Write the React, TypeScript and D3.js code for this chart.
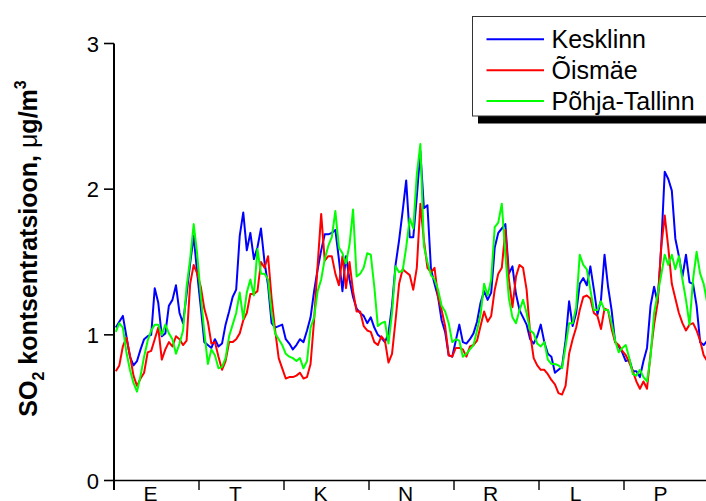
import React from "react";
import * as d3 from "d3";

const dayLabels = ["E", "T", "K", "N", "R", "L", "P"];
const yTicks = [0, 1, 2, 3];
const seriesNames = ["Kesklinn", "Õismäe", "Põhja-Tallinn"];
const seriesColors = ["#0000ff", "#ff0000", "#00ff00"];

const kesklinn = [
  1.05, 1.09, 1.13, 0.99, 0.85, 0.79, 0.82, 0.90, 0.97, 0.99, 1.00, 1.32, 1.22, 0.99, 1.01, 1.20, 1.24, 1.34, 1.15, 1.08, 1.28, 1.49, 1.68, 1.42,
  1.19, 0.95, 0.93, 0.91, 0.97, 0.92, 0.94, 1.07, 1.16, 1.26, 1.31, 1.68, 1.84, 1.58, 1.70, 1.52, 1.60, 1.73, 1.50, 1.34, 1.08, 1.05, 1.06, 1.07,
  0.97, 0.94, 0.90, 0.93, 0.97, 0.95, 1.03, 1.12, 1.30, 1.45, 1.58, 1.69, 1.69, 1.70, 1.72, 1.52, 1.30, 1.54, 1.38, 1.26, 1.18, 1.15, 1.13, 1.08,
  1.12, 1.05, 1.00, 0.98, 0.95, 1.01, 1.20, 1.48, 1.65, 1.85, 2.06, 1.67, 1.67, 1.95, 2.26, 1.87, 1.89, 1.45, 1.35, 1.26, 1.10, 1.02, 0.86, 0.85,
  0.96, 1.07, 0.95, 0.94, 0.97, 1.01, 1.09, 1.22, 1.30, 1.24, 1.29, 1.60, 1.70, 1.73, 1.76, 1.42, 1.47, 1.28, 1.17, 1.12, 1.07, 0.97, 0.94, 0.99,
  1.07, 0.95, 0.87, 0.85, 0.74, 0.76, 0.78, 0.96, 1.23, 1.06, 1.15, 1.35, 1.39, 1.34, 1.47, 1.31, 1.14, 1.24, 1.55, 1.33, 1.17, 0.95, 0.92, 0.88,
  0.82, 0.83, 0.75, 0.75, 0.71, 0.82, 0.91, 1.20, 1.33, 1.22, 1.60, 2.12, 2.07, 1.99, 1.66, 1.54, 1.40, 1.55, 1.36, 1.35, 1.20, 0.95, 0.93, 0.96,
];

const oismae = [
  0.75, 0.79, 0.92, 0.98, 0.86, 0.72, 0.65, 0.70, 0.74, 0.88, 0.89, 0.97, 1.05, 0.83, 0.90, 0.95, 0.92, 0.99, 0.97, 0.93, 0.96, 1.35, 1.48, 1.42,
  1.33, 1.18, 1.09, 0.94, 0.95, 0.85, 0.76, 0.82, 0.95, 0.95, 0.97, 1.01, 1.10, 1.15, 1.28, 1.28, 1.30, 1.50, 1.46, 1.54, 1.25, 1.03, 0.84, 0.77,
  0.70, 0.71, 0.71, 0.72, 0.74, 0.70, 0.71, 0.80, 1.10, 1.48, 1.83, 1.51, 1.54, 1.54, 1.42, 1.34, 1.54, 1.32, 1.50, 1.30, 1.16, 1.16, 1.06, 1.03,
  1.02, 0.95, 0.93, 0.99, 0.96, 0.81, 0.87, 1.10, 1.35, 1.45, 1.43, 1.41, 1.31, 1.46, 1.90, 1.65, 1.46, 1.43, 1.46, 1.26, 1.17, 1.06, 0.86, 0.85,
  0.91, 0.91, 0.90, 0.85, 0.92, 0.93, 0.96, 1.06, 1.16, 1.09, 1.13, 1.31, 1.42, 1.46, 1.72, 1.38, 1.19, 1.40, 1.48, 1.46, 1.31, 1.01, 0.84, 0.79,
  0.76, 0.76, 0.73, 0.69, 0.66, 0.60, 0.59, 0.65, 0.87, 0.97, 1.05, 1.17, 1.26, 1.27, 1.25, 1.15, 1.13, 1.04, 1.18, 1.17, 1.04, 0.95, 0.93, 0.89,
  0.86, 0.81, 0.75, 0.68, 0.63, 0.68, 0.63, 0.87, 1.07, 1.22, 1.60, 1.82, 1.60, 1.35, 1.25, 1.15, 1.08, 1.03, 1.07, 1.08, 1.03, 0.96, 0.86, 0.82,
];

const pohjaTallinn = [
  1.02, 1.08, 1.05, 0.88, 0.76, 0.67, 0.61, 0.72, 0.85, 0.96, 1.03, 1.07, 1.07, 1.00, 1.07, 1.01, 0.97, 0.87, 0.94, 1.03, 1.33, 1.52, 1.76, 1.55,
  1.27, 1.02, 0.80, 0.90, 0.86, 0.77, 0.78, 0.84, 0.99, 1.07, 1.15, 1.29, 1.11, 1.29, 1.38, 1.27, 1.59, 1.42, 1.42, 1.38, 1.15, 1.01, 0.97, 0.93,
  0.87, 0.85, 0.84, 0.82, 0.84, 0.77, 0.82, 1.05, 1.12, 1.30, 1.38, 1.52, 1.61, 1.67, 1.85, 1.60, 1.56, 1.49, 1.62, 1.86, 1.40, 1.42, 1.46, 1.56,
  1.55, 1.33, 1.06, 1.08, 1.09, 0.94, 1.15, 1.47, 1.43, 1.44, 1.60, 1.80, 1.73, 2.10, 2.31, 1.61, 1.50, 1.41, 1.38, 1.31, 1.20, 1.16, 1.08, 0.95,
  0.97, 0.96, 0.85, 0.87, 0.90, 0.93, 1.03, 1.14, 1.35, 1.27, 1.38, 1.74, 1.77, 1.90, 1.55, 1.25, 1.12, 1.08, 1.17, 1.24, 1.15, 1.03, 1.01, 0.94,
  0.92, 0.95, 0.83, 0.80, 0.80, 0.79, 0.77, 0.92, 1.08, 1.08, 1.19, 1.55, 1.48, 1.45, 1.31, 1.17, 1.17, 1.23, 1.17, 1.17, 1.08, 0.96, 0.88, 0.91,
  0.93, 0.84, 0.73, 0.72, 0.76, 0.71, 0.68, 0.85, 1.15, 1.28, 1.41, 1.55, 1.48, 1.55, 1.45, 1.54, 1.38, 1.24, 1.07, 1.38, 1.57, 1.42, 1.35, 1.22,
];

const FONT = "'Liberation Sans', Arial, Helvetica, sans-serif";

export default function App() {
  const W = 706;
  const H = 501;
  const hoursPerDay = 24;
  const nDays = dayLabels.length;
  const x = d3.scaleLinear().domain([0, hoursPerDay * nDays]).range([114, 709]);
  const y = d3.scaleLinear().domain([0, 3]).range([480.5, 43.5]);
  const line = d3
    .line<number>()
    .x((_, i) => x(i + 0.5))
    .y((d) => y(d));
  const series = [kesklinn, oismae, pohjaTallinn];
  const dayTicks = d3.range(0, nDays + 1).map((d) => d * hoursPerDay);

  const legendX = 472.5;
  const legendY = 16.5;
  const rowY = [39.3, 70.2, 101];

  return (
    <svg
      width={W}
      height={H}
      style={{ position: "absolute", left: 0, top: 0, background: "#fff" }}
      fontFamily={FONT}
    >
      <rect x={0} y={0} width={W} height={H} fill="#fff" />
      {series.map((s, i) => (
        <path
          key={seriesNames[i]}
          d={line(s) || ""}
          fill="none"
          stroke={seriesColors[i]}
          strokeWidth={2}
          strokeLinejoin="round"
        />
      ))}

      <line x1={x(0)} x2={x(0)} y1={y(3)} y2={490} stroke="#000" strokeWidth={2} />
      {yTicks.map((t) => (
        <g key={t}>
          <line x1={x(0) - 10} x2={x(0)} y1={y(t)} y2={y(t)} stroke="#000" strokeWidth={1.6} />
          <text x={99} y={y(t) + 8} textAnchor="end" fontSize={22} fill="#000">
            {t}
          </text>
        </g>
      ))}

      <line x1={x(0)} x2={W} y1={y(0)} y2={y(0)} stroke="#000" strokeWidth={1.6} />
      {dayTicks.map((t) => (
        <line key={t} x1={x(t)} x2={x(t)} y1={y(0)} y2={490} stroke="#000" strokeWidth={1.4} />
      ))}
      {dayLabels.map((d, i) => (
        <text
          key={d}
          x={x(i * hoursPerDay + 10.3)}
          y={501}
          textAnchor="middle"
          fontSize={21}
          fill="#000"
        >
          {d}
        </text>
      ))}

      <text
        transform={`translate(37,248.5) rotate(-90)`}
        textAnchor="middle"
        fontSize={25}
        fontWeight="bold"
        fill="#000"
      >
        <tspan>SO</tspan>
        <tspan fontSize={16} dy={7}>2</tspan>
        <tspan dy={-7}> kontsentratsioon, </tspan>
        <tspan fontWeight="normal">μ</tspan>
        <tspan>g/m</tspan>
        <tspan fontSize={16} dy={-11}>3</tspan>
      </text>

      <rect x={legendX + 5.5} y={legendY + 6} width={260} height={101} fill="#000" />
      <rect
        x={legendX}
        y={legendY}
        width={260}
        height={99.5}
        fill="#fff"
        stroke="#333"
        strokeWidth={1}
      />
      {seriesNames.map((n, i) => (
        <g key={n}>
          <line
            x1={486.5}
            x2={544}
            y1={rowY[i]}
            y2={rowY[i]}
            stroke={seriesColors[i]}
            strokeWidth={2}
          />
          <text x={551.5} y={rowY[i] + 9} fontSize={25} fill="#000">
            {n}
          </text>
        </g>
      ))}
    </svg>
  );
}
